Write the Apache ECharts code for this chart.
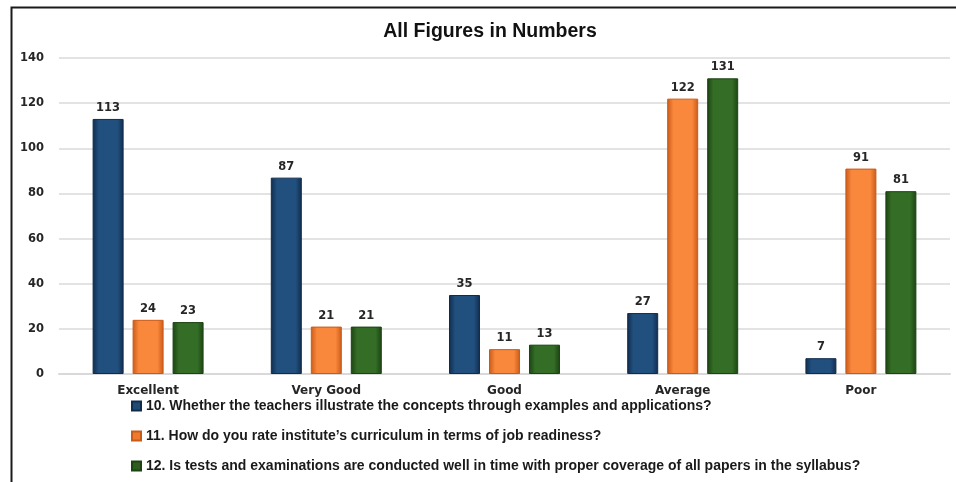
<!DOCTYPE html>
<html>
<head>
<meta charset="utf-8">
<script src="https://cdn.jsdelivr.net/npm/echarts@6/dist/echarts.min.js"></script>
<style>html,body{margin:0;padding:0;background:#fff;}#c{width:956px;height:482px;}</style>
</head>
<body>
<div id="c"></div>
<script>
const categories = ['Excellent', 'Very Good', 'Good', 'Average', 'Poor'];
const seriesNames = [
  '10. Whether the teachers illustrate the concepts through examples and applications?',
  '11. How do you rate institute\u2019s curriculum in terms of job readiness?',
  '12. Is tests and examinations are conducted well in time with proper coverage of all papers in the syllabus?'
];
const q10 = [113, 87, 35, 27, 7];
const q11 = [24, 21, 11, 122, 91];
const q12 = [23, 21, 13, 131, 81];
const yTicks = { min: 0, max: 140, interval: 20 };

const palettes = [
  { edge: '#102c4d', mid: '#21507f', legend: '#1f4a75' },
  { edge: '#c95a18', mid: '#f9883c', legend: '#ee7a2f' },
  { edge: '#1c4312', mid: '#346d26', legend: '#2e5e1f' }
];
function grad(p) {
  return new echarts.graphic.LinearGradient(0, 0, 1, 0, [
    { offset: 0, color: p.edge },
    { offset: 0.2, color: p.mid },
    { offset: 0.8, color: p.mid },
    { offset: 1, color: p.edge }
  ]);
}
const labelStyle = {
  show: true, position: 'top', distance: 5,
  fontFamily: 'DejaVu Sans', fontWeight: 'bold', fontSize: 11.5, color: '#262626'
};
const data = [q10, q11, q12];
const chart = echarts.init(document.getElementById('c'), null, { renderer: 'canvas' });
chart.setOption({
  backgroundColor: '#fff',
  animation: false,
  title: {
    text: 'All Figures in Numbers',
    left: 485, top: 17, textAlign: 'center',
    textStyle: { fontFamily: "'Liberation Sans Narrow', 'Liberation Sans', sans-serif", fontWeight: 'bold', fontSize: 19.5, color: '#111' }
  },
  graphic: [{
    type: 'rect', left: 9, top: 5, shape: { width: 1000, height: 600 },
    style: { fill: 'none', stroke: '#1a1a1a', lineWidth: 2 }, silent: true
  }],
  legend: {
    orient: 'vertical', left: 126, top: 394, itemGap: 16,
    itemWidth: 9, itemHeight: 9, icon: 'rect',
    textStyle: { fontFamily: "'Liberation Sans Narrow', 'Liberation Sans', sans-serif", fontWeight: 'bold', fontSize: 14, color: '#1a1a1a' },
    data: seriesNames.map((n, i) => ({ name: n, itemStyle: { color: palettes[i].legend } }))
  },
  grid: { left: 59, right: 6, top: 58, bottom: 108, containLabel: false },
  xAxis: {
    type: 'category', data: categories,
    axisLine: { show: true, lineStyle: { color: '#d9d9d9', width: 2 } },
    axisTick: { show: false },
    axisLabel: { margin: 11, fontFamily: 'DejaVu Sans', fontWeight: 'bold', fontSize: 12, color: '#262626' }
  },
  yAxis: {
    type: 'value', min: yTicks.min, max: yTicks.max, interval: yTicks.interval,
    axisLine: { show: false }, axisTick: { show: false },
    splitLine: { lineStyle: { color: '#e3e3e3', width: 2 } },
    axisLabel: { margin: 15, fontFamily: 'DejaVu Sans', fontWeight: 'bold', fontSize: 11.5, color: '#262626' }
  },
  series: data.map((d, i) => ({
    name: seriesNames[i], type: 'bar', data: d,
    barWidth: 31, barGap: '29%',
    itemStyle: { color: grad(palettes[i]), borderColor: palettes[i].edge, borderWidth: 1 },
    label: labelStyle
  }))
});
</script>
</body>
</html>
